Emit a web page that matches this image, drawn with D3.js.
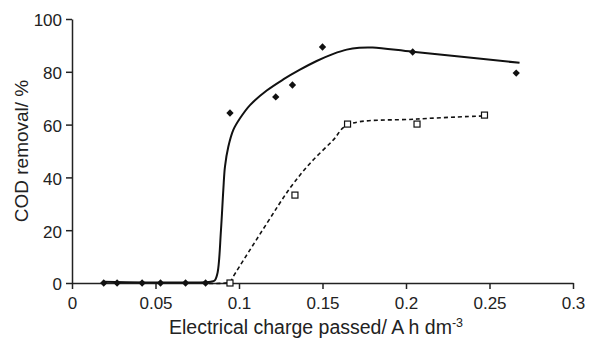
<!DOCTYPE html>
<html>
<head>
<meta charset="utf-8">
<script src="https://cdn.jsdelivr.net/npm/d3@7"></script>
<style>
  body { margin: 0; background: #fff; }
  svg { font-family: "Liberation Sans", Arial, sans-serif; }
</style>
</head>
<body>
<svg id="chart" width="589" height="338"></svg>
<script>
// measured points (filled diamonds)
var diamondX = [0.019, 0.027, 0.042, 0.053, 0.068, 0.080, 0.0946, 0.122, 0.132, 0.150, 0.204, 0.266];
var diamondY = [0, 0, 0, 0, 0, 0, 64.4, 70.5, 75.0, 89.4, 87.5, 79.5];

// measured points (open squares)
var squareX = [0.0946, 0.1335, 0.165, 0.2066, 0.247];
var squareY = [0, 33.3, 60.2, 60.2, 63.6];

// fitted solid curve
var solidX = [0.019, 0.083, 0.0855, 0.0872, 0.0892, 0.0906, 0.0916, 0.0936, 0.0966, 0.1006, 0.1066, 0.1166, 0.1265, 0.1365, 0.1465, 0.1565, 0.1645, 0.172, 0.180, 0.204, 0.268];
var solidY = [0.5, 0.5, 1, 4, 20, 35.2, 44.1, 51.6, 58.0, 62.4, 67.4, 72.9, 77.1, 80.8, 84.1, 86.8, 88.4, 89.1, 89.2, 87.6, 83.4];

// fitted dashed curve
var dashX = [0.078, 0.0946, 0.0964, 0.1168, 0.1305, 0.1425, 0.1565, 0.1647, 0.2066, 0.2467];
var dashY = [0, 0.4, 2.3, 22.7, 35.9, 45.3, 54.2, 59.8, 62.1, 63.3];

var xTicks = [0, 0.05, 0.1, 0.15, 0.2, 0.25, 0.3];
var yTicks = [0, 20, 40, 60, 80, 100];

var svg = d3.select('#chart');
var x = d3.scaleLinear().domain([0, 0.3]).range([72, 573]);
var y = d3.scaleLinear().domain([0, 100]).range([283, 19]);

var ink = '#222';

// axes
var xAxis = svg.append('g')
  .attr('transform', 'translate(0,' + y(0) + ')')
  .call(d3.axisBottom(x).tickValues(xTicks).tickSize(6).tickSizeOuter(0).tickPadding(8)
    .tickFormat(function(d) { return String(+d.toFixed(2)); }));

var yAxis = svg.append('g')
  .attr('transform', 'translate(' + x(0) + ',0)')
  .call(d3.axisLeft(y).tickValues(yTicks).tickSize(6).tickSizeOuter(0).tickPadding(4));

[xAxis, yAxis].forEach(function(a) {
  a.select('.domain').attr('stroke', ink).attr('stroke-width', 1.5);
  a.selectAll('.tick line').attr('stroke', ink).attr('stroke-width', 1.5);
  a.selectAll('.tick text').attr('fill', ink).style('font-size', '17px')
    .style('font-family', '"Liberation Sans", Arial, sans-serif');
});
yAxis.selectAll('.tick text').attr('dy', '0.4em');
xAxis.selectAll('.tick text').attr('dy', '0.68em');

// axis titles
var xTitle = svg.append('text')
  .attr('x', 316)
  .attr('y', 334)
  .attr('text-anchor', 'middle')
  .attr('fill', ink)
  .style('font-size', '19.5px');
xTitle.append('tspan').text('Electrical charge passed/ A h dm');
xTitle.append('tspan').attr('dy', -7).style('font-size', '12.5px').text('-3');

svg.append('text')
  .attr('transform', 'translate(28,151)rotate(-90)')
  .attr('text-anchor', 'middle')
  .attr('fill', ink)
  .style('font-size', '19px')
  .text('COD removal/ %');

// curves
var line = d3.line()
  .x(function(d) { return x(d[0]); })
  .y(function(d) { return y(d[1]); })
  .curve(d3.curveCatmullRom.alpha(0.5));

svg.append('path')
  .datum(d3.zip(solidX, solidY))
  .attr('d', line)
  .attr('fill', 'none')
  .attr('stroke', '#111')
  .attr('stroke-width', 2);

svg.append('path')
  .datum(d3.zip(dashX, dashY))
  .attr('d', line)
  .attr('fill', 'none')
  .attr('stroke', '#111')
  .attr('stroke-width', 1.6)
  .attr('stroke-dasharray', '4,3');

// markers
svg.selectAll('.diamond')
  .data(d3.zip(diamondX, diamondY))
  .enter()
  .append('path')
  .attr('class', 'diamond')
  .attr('d', d3.symbol().type(d3.symbolDiamond2).size(34))
  .attr('transform', function(d) { return 'translate(' + x(d[0]) + ',' + y(d[1]) + ')'; })
  .attr('fill', '#111');

svg.selectAll('.square')
  .data(d3.zip(squareX, squareY))
  .enter()
  .append('rect')
  .attr('class', 'square')
  .attr('x', function(d) { return x(d[0]) - 3; })
  .attr('y', function(d) { return y(d[1]) - 3; })
  .attr('width', 6)
  .attr('height', 6)
  .attr('fill', '#fff')
  .attr('stroke', '#111')
  .attr('stroke-width', 1.2);
</script>
</body>
</html>
